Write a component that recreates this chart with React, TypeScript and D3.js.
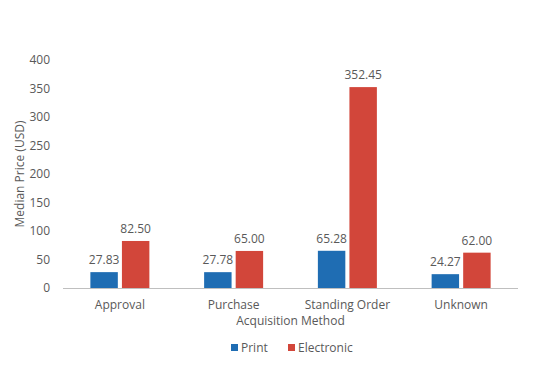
import React, { useEffect, useRef } from "react";
import { axisLeft, scaleBand, scaleLinear, select } from "d3";

const categories = ["Approval", "Purchase", "Standing Order", "Unknown"];
const seriesNames = ["Print", "Electronic"];
const printValues = [27.83, 27.78, 65.28, 24.27];
const electronicValues = [82.5, 65.0, 352.45, 62.0];
const yTicks = [0, 50, 100, 150, 200, 250, 300, 350, 400];

const colors = ["#1f6db3", "#d2463a"];
const font = "'Open Sans', 'Noto Sans', sans-serif";
const textColor = "#595959";

const App: React.FC = () => {
    const svgRef = useRef<SVGSVGElement>(null);

    useEffect(() => {
        if (!svgRef.current) return;
        svgRef.current.innerHTML = "";

        const width = 559,
            height = 368;
        const margin = { top: 60, right: 41, bottom: 80, left: 63 };
        const innerW = width - margin.left - margin.right;
        const innerH = height - margin.top - margin.bottom;

        const svg = select(svgRef.current)
            .attr("width", width)
            .attr("height", height)
            .style("font-family", font);

        const g = svg
            .append("g")
            .attr("transform", "translate(" + margin.left + "," + margin.top + ")");

        const x0 = scaleBand().domain(categories).range([0, innerW]);
        const x1 = scaleBand()
            .domain(seriesNames)
            .range([0, 59])
            .paddingInner(0.13);
        const y = scaleLinear().domain([0, 400]).range([innerH, 0]);

        g.append("g")
            .call(axisLeft(y).tickValues(yTicks).tickSize(0).tickPadding(13))
            .call(s => s.select(".domain").remove())
            .call(s =>
                s
                    .selectAll(".tick text")
                    .attr("fill", textColor)
                    .style("font-size", "12px")
                    .style("font-family", font),
            );

        const data = categories.map((c, i) => ({
            cat: c,
            vals: [printValues[i], electronicValues[i]],
        }));

        const groups = g
            .selectAll(".grp")
            .data(data)
            .enter()
            .append("g")
            .attr(
                "transform",
                d => "translate(" + ((x0(d.cat) || 0) + x0.bandwidth() / 2 - 29.5) + ",0)",
            );

        groups
            .selectAll("rect")
            .data(d => d.vals)
            .enter()
            .append("rect")
            .attr("x", (d, i) => x1(seriesNames[i]) || 0)
            .attr("y", d => y(d))
            .attr("width", x1.bandwidth())
            .attr("height", d => innerH - y(d))
            .attr("fill", (d, i) => colors[i]);

        groups
            .selectAll("text")
            .data(d => d.vals)
            .enter()
            .append("text")
            .attr("x", (d, i) => (x1(seriesNames[i]) || 0) + x1.bandwidth() / 2)
            .attr("y", d => y(d) - 8)
            .attr("text-anchor", "middle")
            .attr("fill", textColor)
            .style("font-size", "12px")
            .text(d => d.toFixed(2));

        g.append("line")
            .attr("x1", 0)
            .attr("x2", innerW)
            .attr("y1", innerH + 0.5)
            .attr("y2", innerH + 0.5)
            .attr("stroke", "#bfbfbf")
            .attr("stroke-width", 1);

        g.selectAll(".xlab")
            .data(categories)
            .enter()
            .append("text")
            .attr("x", d => (x0(d) || 0) + x0.bandwidth() / 2)
            .attr("y", innerH + 21)
            .attr("text-anchor", "middle")
            .attr("fill", textColor)
            .style("font-size", "12px")
            .text(d => d);

        g.append("text")
            .attr("x", innerW / 2)
            .attr("y", innerH + 37)
            .attr("text-anchor", "middle")
            .attr("fill", textColor)
            .style("font-size", "12px")
            .text("Acquisition Method");

        svg.append("text")
            .attr(
                "transform",
                "translate(24," + (margin.top + innerH / 2) + ") rotate(-90)",
            )
            .attr("text-anchor", "middle")
            .attr("fill", textColor)
            .style("font-size", "12px")
            .text("Median Price (USD)");

        const legendX = [231, 288];
        const legend = svg
            .selectAll(".leg")
            .data(seriesNames)
            .enter()
            .append("g")
            .attr("transform", (d, i) => "translate(" + legendX[i] + ",344)");
        legend
            .append("rect")
            .attr("width", 7)
            .attr("height", 7)
            .attr("fill", (d, i) => colors[i]);
        legend
            .append("text")
            .attr("x", 10)
            .attr("y", 7.5)
            .attr("fill", textColor)
            .style("font-size", "12px")
            .text(d => d);
    }, []);

    return (
        <div style={{ margin: -8 }}>
            <svg ref={svgRef}></svg>
        </div>
    );
};

export default App;
